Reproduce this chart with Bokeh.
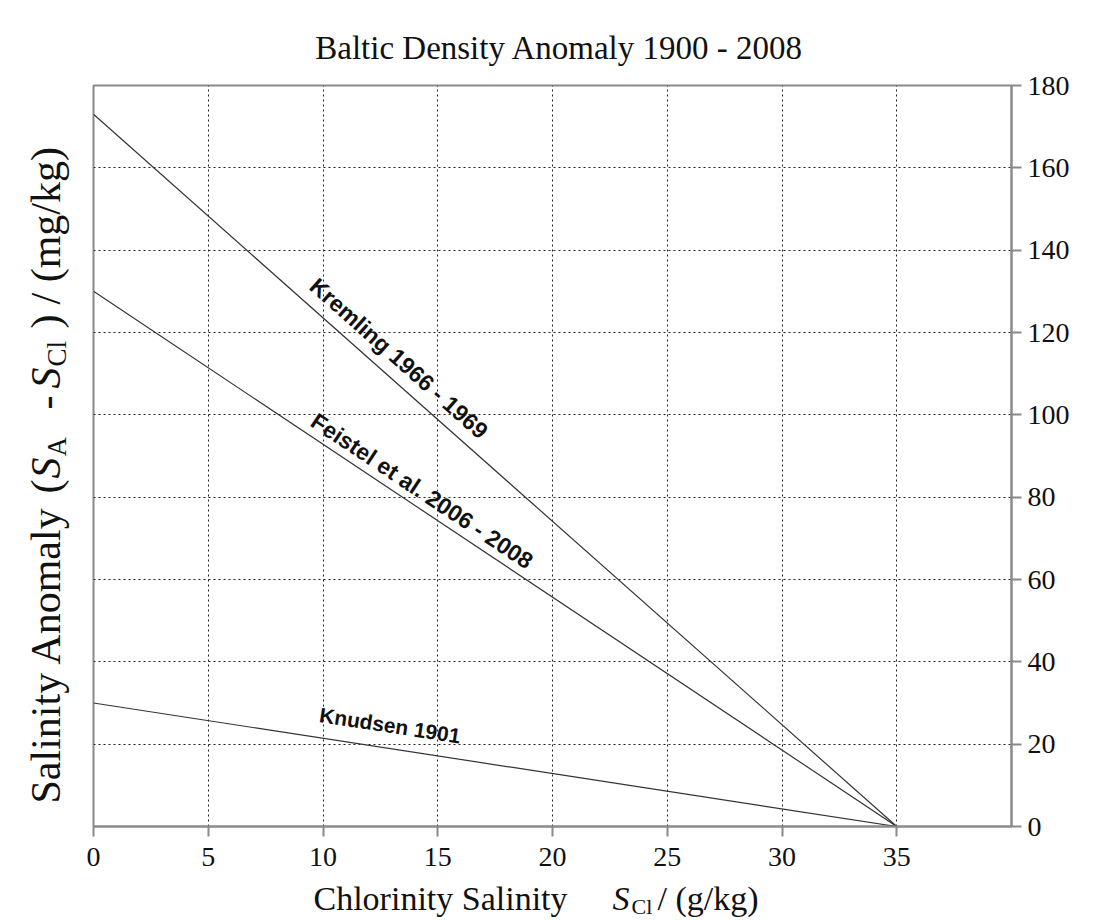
import math
from bokeh.plotting import figure
from bokeh.layouts import column, row
from bokeh.models import ColumnDataSource, FixedTicker, Label, Range1d
from bokeh.core.properties import value
from bokeh.embed import file_html
from bokeh.resources import INLINE

# ---------------- data ----------------
sources = ["Knudsen 1901", "Feistel et al. 2006 - 2008", "Kremling 1966 - 1969"]
anomaly_at_zero = [30, 130, 173]      # mg/kg at S_Cl = 0
zero_salinity = [35, 35, 35]          # g/kg where the anomaly vanishes
label_start = [9.7, 9.2, 9.0]         # g/kg where each line label starts
x_ticks = [0, 5, 10, 15, 20, 25, 30, 35]
y_ticks = [0, 20, 40, 60, 80, 100, 120, 140, 160, 180]
x_max = 40
y_max = 180

# ---------------- styling / layout ----------------
W, H = 1110, 920
TITLE_H = 68
YLAB_W = 78
FW, FH = 918, 741
MAIN_TOP, MAIN_LEFT, MAIN_BOTTOM = 17, 15, 52
FRAME_X0 = YLAB_W + MAIN_LEFT          # page x of the plot frame's left edge
MAIN_W = W - YLAB_W
MAIN_H = MAIN_TOP + FH + MAIN_BOTTOM
XLAB_H = H - TITLE_H - MAIN_H
GRAY = "#8a8a8a"
SERIF = "Liberation Serif"
INK = "#111111"
px = FW / x_max
py = FH / y_max
label_gap = [23, 16, 20]          # px between line and label baseline
label_size = ["21px", "23px", "23px"]


def blank(w, h):
    f = figure(frame_width=w, frame_height=h,
               x_range=Range1d(0, w), y_range=Range1d(0, h),
               output_backend="svg", toolbar_location=None, title=None,
               x_axis_location=None, y_axis_location=None,
               min_border=0, outline_line_color=None,
               background_fill_color="white", border_fill_color="white")
    f.xgrid.visible = False
    f.ygrid.visible = False
    return f


def add(f, text, x, y, size, style="normal", angle=0.0, align="left"):
    f.add_layout(Label(x=x, y=y, text=text, angle=angle, text_font=SERIF,
                       text_font_size=size, text_font_style=style,
                       text_align=align, text_baseline="middle",
                       text_color=INK))


# ---------------- main plot ----------------
p = figure(frame_width=FW, frame_height=FH,
           x_range=Range1d(0, x_max), y_range=Range1d(0, y_max),
           output_backend="svg", toolbar_location=None, title=None,
           y_axis_location="right",
           min_border_left=MAIN_LEFT, min_border_top=MAIN_TOP,
           min_border_right=MAIN_W - MAIN_LEFT - FW, min_border_bottom=MAIN_BOTTOM,
           background_fill_color="white", border_fill_color="white")
p.outline_line_color = GRAY
p.outline_line_width = 2

for ax, ticks in ((p.xaxis[0], x_ticks), (p.yaxis[0], y_ticks)):
    ax.ticker = FixedTicker(ticks=ticks)
    ax.axis_line_color = GRAY
    ax.axis_line_width = 2
    ax.major_tick_line_color = GRAY
    ax.major_tick_line_width = 2
    ax.major_tick_out = 10
    ax.major_tick_in = 0
    ax.minor_tick_line_color = None
    ax.major_label_text_font = SERIF
    ax.major_label_text_font_size = "28px"
    ax.major_label_text_font_style = "normal"
    ax.major_label_text_color = INK
p.xaxis[0].major_label_standoff = 11
p.yaxis[0].major_label_standoff = 6

for g in (p.xgrid[0], p.ygrid[0]):
    g.grid_line_color = "#222222"
    g.grid_line_dash = "2 3"
    g.grid_line_width = 1

lines = ColumnDataSource(dict(
    xs=[[0, z] for z in zero_salinity],
    ys=[[a, 0] for a in anomaly_at_zero],
))
p.multi_line(xs="xs", ys="ys", source=lines, line_color="#333333", line_width=1.2)

lx, ly, la = [], [], []
for a, z, x0, gap in zip(anomaly_at_zero, zero_salinity, label_start, label_gap):
    theta = math.atan((a * py) / (z * px))
    y0 = a * (1 - x0 / z)
    lx.append(x0 + gap * math.sin(theta) / px)
    ly.append(y0 + gap * math.cos(theta) / py)
    la.append(-theta)
labels = ColumnDataSource(dict(x=lx, y=ly, text=sources, angle=la, size=label_size))
p.text(x="x", y="y", text="text", angle="angle", source=labels,
       text_font=value("Liberation Sans"), text_font_style="bold",
       text_font_size="size", text_align="left", text_baseline="alphabetic",
       text_color=INK)


def XX(img_x):
    # title / x-label strips are frame-aligned with the plot
    return img_x - FRAME_X0


# ---------------- title ----------------
t = blank(MAIN_W, TITLE_H)
add(t, "Baltic Density Anomaly 1900 - 2008", XX(559), TITLE_H - 47, "33px",
    align="center")

# ---------------- y-axis label (rotated, full height strip) ----------------
yl = blank(YLAB_W, H)


def YY(img_y):
    return H - img_y


r = math.pi / 2
bx = 45      # cap centre of the main text
sx = 56      # cap centre of the subscripts
add(yl, "Salinity Anomaly", bx, YY(803), "42px", angle=r)
add(yl, "(", bx, YY(493), "42px", angle=r)
add(yl, "S", bx, YY(478), "42px", style="italic", angle=r)
add(yl, "A", sx, YY(456), "27px", angle=r)
add(yl, "-", bx, YY(402), "42px", angle=r, align="center")
add(yl, "S", bx, YY(388), "42px", style="italic", angle=r)
add(yl, "Cl", sx, YY(366), "27px", angle=r)
add(yl, ")", bx, YY(328), "42px", angle=r)
add(yl, "/ (mg/kg)", bx, YY(304), "42px", angle=r)

# ---------------- x-axis label ----------------
xl = blank(MAIN_W, XLAB_H)


def XY(img_y):
    return H - img_y


add(xl, "Chlorinity Salinity", XX(313), XY(898), "34px")
add(xl, "S", XX(612), XY(898), "34px", style="italic")
add(xl, "Cl", XX(631), XY(906), "22px")
add(xl, "/ (g/kg)", XX(657), XY(898), "34px")

layout = row(yl, column(t, p, xl))
open("out.html", "w").write(file_html(layout, INLINE))
